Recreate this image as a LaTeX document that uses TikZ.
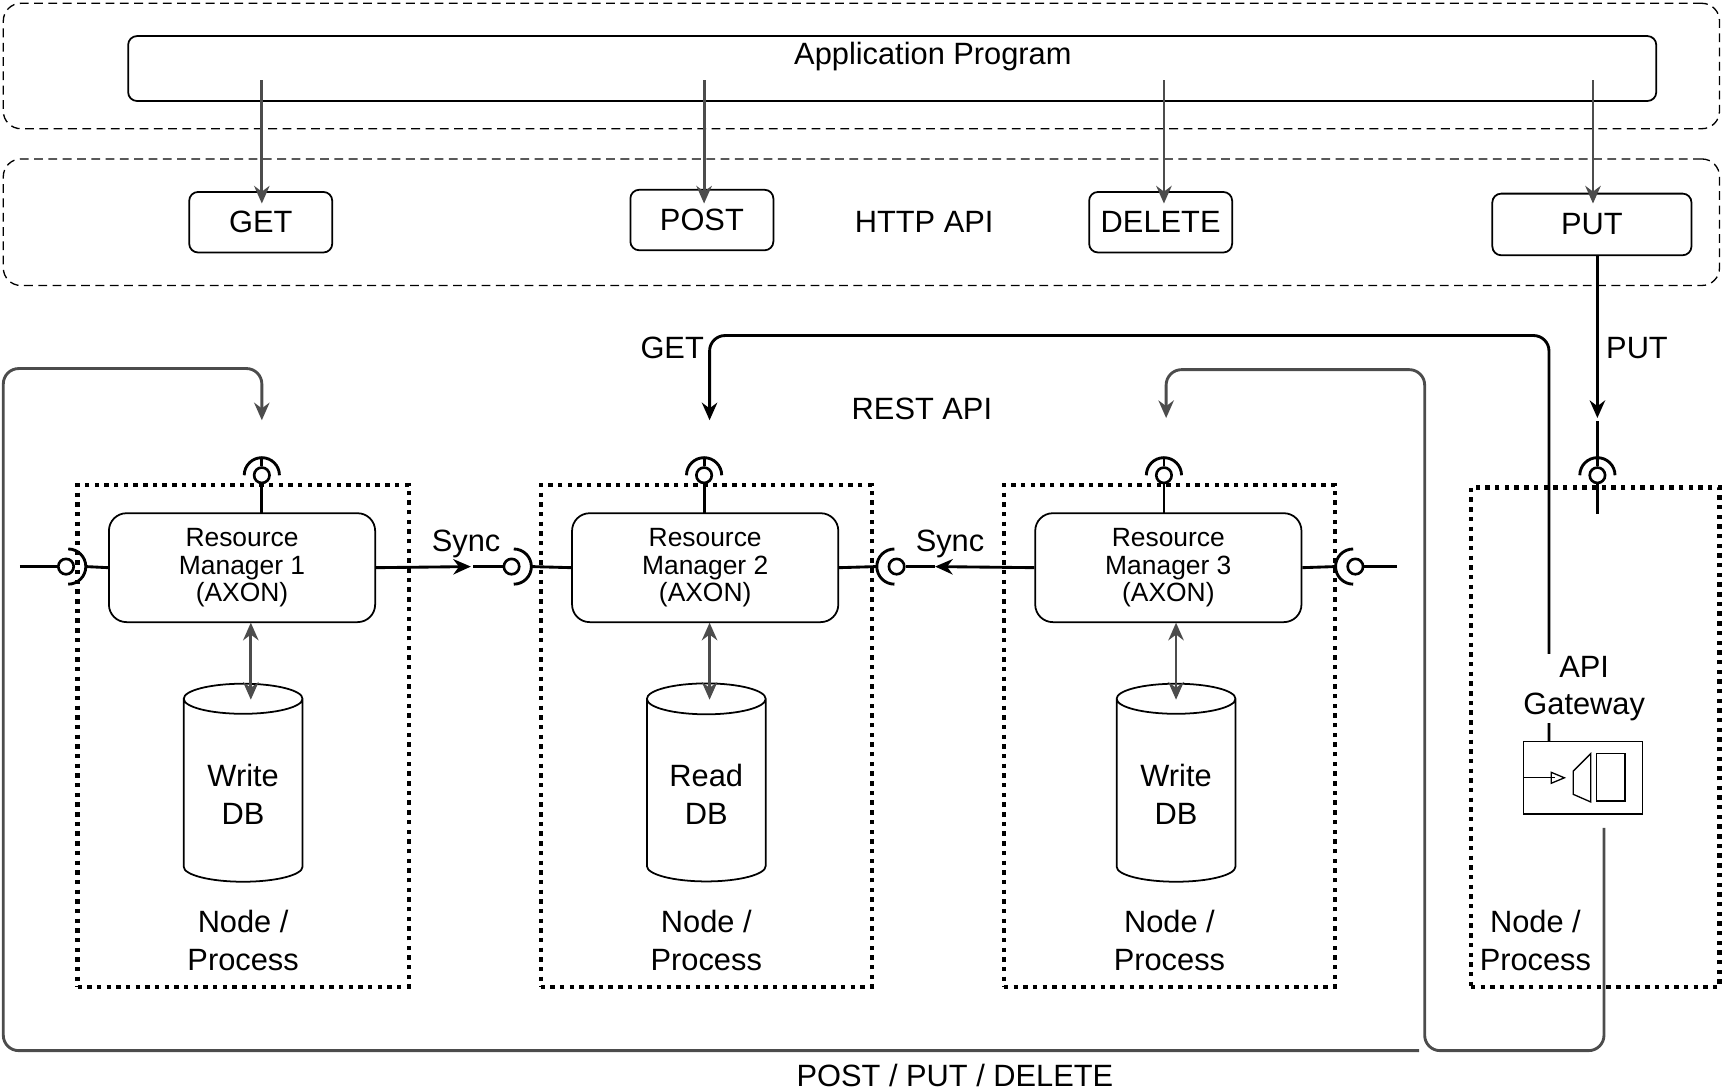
\documentclass[tikz,border=0pt]{standalone}
\usepackage{fontspec}
\setmainfont{Liberation Sans}
\usetikzlibrary{positioning,calc,arrows.meta,shapes.geometric}
\tikzset{
  layer/.style={draw, dash pattern=on 4pt off 2.5pt, rounded corners=8pt, line width=0.6pt},
  verb/.style={draw, rounded corners=4pt, line width=0.8pt, font=\fontsize{14}{16}\selectfont},
  rm/.style={draw, rounded corners=8pt, line width=0.8pt, minimum width=121pt, minimum height=49.5pt,
    align=center, font=\fontsize{12}{12.5}\selectfont},
  proc/.style={draw, dash pattern=on 2pt off 2.4pt, line width=2pt},
  db/.style={draw, cylinder, shape border rotate=90, aspect=0.35, line width=0.8pt,
    minimum width=54pt, minimum height=90pt, align=center, font=\fontsize{14}{17}\selectfont},
  lbl/.style={font=\fontsize{14}{17}\selectfont, align=center},
  ball/.style={draw, circle, line width=1.2pt, inner sep=0pt, minimum size=7pt, fill=white},
  wire/.style={line width=1.3pt},
  grey/.style={draw=black!70, line width=1.3pt, rounded corners=7pt},
  tip/.style={-{Stealth[length=8pt,width=7pt]}},
}
\begin{document}
\begin{tikzpicture}[x=0.5pt, y=-0.5pt]
  \useasboundingbox (0,0) rectangle (1568,991);

  % layers
  \node [layer, minimum width=780pt, minimum height=57pt] (app layer) at (783,60) {};
  \node [layer, minimum width=780pt, minimum height=57.5pt] (http layer) at (783,202) {};
  \node [verb, minimum width=694.5pt, minimum height=29.5pt, anchor=north] (app) at (811,32) {};
  \node [lbl] at (848,51) {Application Program};

  \node [verb, minimum width=65pt, minimum height=27.5pt] (get) at (237,202) {GET};
  \node [verb, minimum width=65pt, minimum height=27.5pt] (post) at (638,200) {POST};
  \node [verb, minimum width=65pt, minimum height=27.5pt] (delete) at (1055,202) {DELETE};
  \node [verb, minimum width=90.5pt, minimum height=28pt] (put) at (1447,204) {PUT};
  \node [lbl] at (840,202) {HTTP API};

  \foreach \x/\v in {238/get, 640/post, 1058/delete, 1448/put}
    \draw [wire, draw=black!70, tip] (\x,73) -- (\x,185);

  % process nodes
  \foreach \i/\x in {1/221, 2/642, 3/1063} {
    \node [proc, minimum width=150.5pt, minimum height=228pt] (node\i) at (\x,669) {};
    \node [lbl] at (\x,855) {Node /\\Process};
  }
  \node [rm] (rm1) at (220,516) {Resource\\Manager 1\\(AXON)};
  \node [rm] (rm2) at (641,516) {Resource\\Manager 2\\(AXON)};
  \node [rm] (rm3) at (1062,516) {Resource\\Manager 3\\(AXON)};
  \node [db] (db1) at (221,722) {Write\\DB};
  \node [db] (db2) at (642,722) {Read\\DB};
  \node [db] (db3) at (1069,722) {Write\\DB};
  \foreach \x/\i in {228/1, 645/2, 1069/3}
    \draw [wire, draw=black!70, {Stealth[length=8pt,width=7pt]}-{Stealth[length=8pt,width=7pt]}]
      (\x,566) -- (\x,636);

  \node [proc, minimum width=113pt, minimum height=227pt] (gwnode) at (1450,670) {};
  \node [lbl, anchor=west] at (1338,855) {Node /\\Process};
  \node [draw, line width=0.6pt, minimum width=54pt, minimum height=33pt] (gw) at (1439,707) {};
  \draw [line width=0.6pt] (1385,707) -- (1413,707);
  \draw [line width=0.6pt] (1410,702) -- (1422,707) -- (1410,712) -- cycle;
  \draw [line width=0.6pt] (1430,701) -- (1446,685) -- (1446,729) -- (1430,722) -- cycle;
  \draw [line width=0.6pt] (1451,685) rectangle (1477,728);

  % top sockets
  \foreach \x/\n in {238/rm1, 640/rm2, 1058/rm3, 1452/gwnode} {
    \node [ball] (b\n) at (\x,432) {};
    \draw [wire] (\x-16,432) arc (180:0:8pt);
    \draw [wire] (\x,416) -- (\x,424);
    \draw [wire] (b\n) -- (\x,467);
  }
  \draw [wire] (1452,383) -- (1452,416);

  % side sockets
  \node [ball] (l1) at (60,515) {};
  \draw [wire] (18,515) -- (l1);
  \draw [wire] (62,499) arc (90:-90:8pt);
  \draw [wire] (78,515) -- (rm1.west);
  \node [ball] (l2) at (465,515) {};
  \draw [wire] (430,515) -- (l2);
  \draw [wire] (467,499) arc (90:-90:8pt);
  \draw [wire] (483,515) -- (rm2.west);
  \node [ball] (r2) at (815,515) {};
  \draw [wire] (850,515) -- (r2);
  \draw [wire] (813,499) arc (90:270:8pt);
  \draw [wire] (797,515) -- (rm2.east);
  \node [ball] (r3) at (1232,515) {};
  \draw [wire] (1270,515) -- (r3);
  \draw [wire] (1230,499) arc (90:270:8pt);
  \draw [wire] (1214,515) -- (rm3.east);

  \draw [wire, tip] (rm1.east) -- node [lbl, above, pos=0.95] {Sync} (428,515);
  \draw [wire, tip] (rm3.west) -- node [lbl, above, pos=0.85] {Sync} (850,515);

  % REST calls
  \draw [wire, tip] (put.south -| 1452,0) -- (1452,380);
  \node [lbl] at (1488,316) {PUT};
  \draw [wire, rounded corners=7pt, tip] (gw.north -| 1408,0) -- (1408,305) -- (645,305) -- (645,382);
  \node [lbl, fill=white, inner sep=1pt] (gwtext) at (1440,626) {API\\Gateway};
  \node [lbl] at (611,316) {GET};
  \node [lbl] at (838,372) {REST API};
  \draw [grey, tip] (gw.south -| 1458,0) ++(0,12) -- (1458,955) -- (1295,955) -- (1295,336) -- (1060,336) -- (1060,380);
  \draw [grey, tip] (1290,955) -- (3,955) -- (3,335) -- (238,335) -- (238,382);
  \node [lbl] at (868,978) {POST / PUT / DELETE};
\end{tikzpicture}
\end{document}
